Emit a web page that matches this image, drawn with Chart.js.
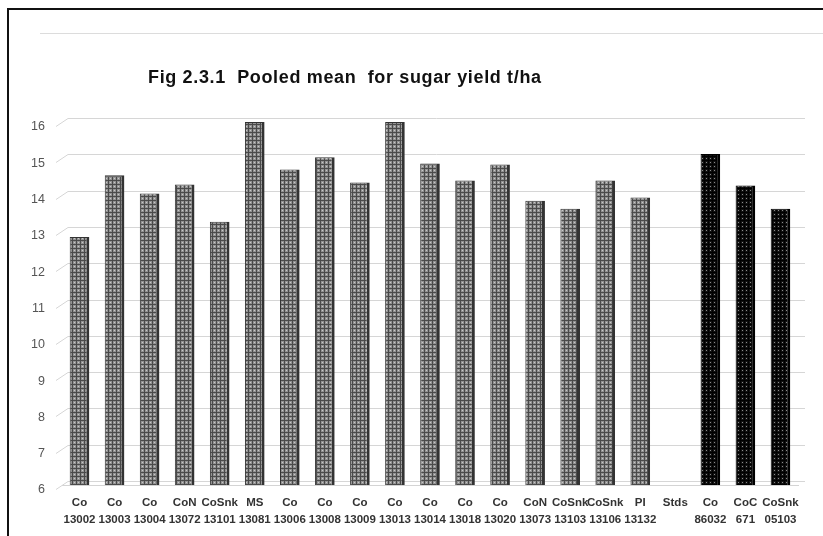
<!DOCTYPE html>
<html lang="en">
<head>
  <meta charset="UTF-8" />
  <title>Pooled mean for sugar yield</title>
  <script src="https://cdn.jsdelivr.net/npm/chart.js"></script>
  <style>
    body {
      margin: 0;
      background-color: #ffffff;
      width: 823px;
      height: 536px;
      overflow: hidden;
      position: relative;
    }
    #frame {
      position: absolute;
      left: 7px;
      top: 8px;
      width: 830px;
      height: 540px;
      border-left: 2px solid #111;
      border-top: 2px solid #111;
    }
    #chartEdge {
      position: absolute;
      left: 40px;
      top: 33px;
      width: 790px;
      border-top: 1px solid #dcdcdc;
    }
    canvas {
      position: absolute;
      left: 0;
      top: 0;
    }
  </style>
</head>
<body>
  <div id="frame"></div>
  <div id="chartEdge"></div>
  <canvas id="yieldChart" width="823" height="536"></canvas>

  <script>
    const chartTitle = "Fig 2.3.1  Pooled mean  for sugar yield t/ha";

    const categories = [
      ["Co", "13002"], ["Co", "13003"], ["Co", "13004"], ["CoN", "13072"],
      ["CoSnk", "13101"], ["MS", "13081"], ["Co", "13006"], ["Co", "13008"],
      ["Co", "13009"], ["Co", "13013"], ["Co", "13014"], ["Co", "13018"],
      ["Co", "13020"], ["CoN", "13073"], ["CoSnk", "13103"], ["CoSnk", "13106"],
      ["PI", "13132"], ["Stds", ""], ["Co", "86032"], ["CoC", "671"],
      ["CoSnk", "05103"]
    ];

    // test entries (grey) and standards (black)
    const entryYield = [
      12.83, 14.53, 14.03, 14.28, 13.25, 16.0, 14.69, 15.03, 14.33, 16.0,
      14.86, 14.39, 14.83, 13.83, 13.61, 14.39, 13.92, null, null, null, null
    ];
    const standardYield = [
      null, null, null, null, null, null, null, null, null, null,
      null, null, null, null, null, null, null, null, 15.12, 14.25, 13.61
    ];

    const yTicks = [6, 7, 8, 9, 10, 11, 12, 13, 14, 15, 16];

    function makePattern(base, dot, light) {
      const c = document.createElement("canvas");
      c.width = 4;
      c.height = 4;
      const g = c.getContext("2d");
      g.fillStyle = base;
      g.fillRect(0, 0, 4, 4);
      g.fillStyle = dot;
      g.fillRect(0, 0, 4, 1);
      g.fillRect(0, 0, 1, 4);
      g.fillStyle = light;
      g.fillRect(2, 2, 1, 1);
      return document.getElementById("yieldChart").getContext("2d").createPattern(c, "repeat");
    }

    const greyFill = makePattern("#929292", "#4a4a4a", "#c8c8c8");
    const blackFill = makePattern("#111111", "#000000", "#8a8a8a");

    // title sits left of centre like in the original figure
    const titlePlugin = {
      id: "figTitle",
      afterDraw(chart) {
        const ctx = chart.ctx;
        ctx.save();
        ctx.font = "bold 18px 'Liberation Sans', Arial, sans-serif";
        ctx.letterSpacing = "0.65px";
        ctx.fillStyle = "#111";
        ctx.textBaseline = "middle";
        ctx.fillText(chartTitle, 148, 78);
        ctx.restore();
      }
    };

    // back-wall gridlines with the slanted lead-in from each tick label
    const wallPlugin = {
      id: "wall",
      beforeDatasetsDraw(chart) {
        const y = chart.scales.y;
        const ctx = chart.ctx;
        ctx.save();
        ctx.strokeStyle = "#d6d6d6";
        ctx.lineWidth = 1;
        yTicks.forEach(v => {
          const py = Math.round(y.getPixelForValue(v)) - 3.5;
          ctx.beginPath();
          ctx.moveTo(56, py + 8);
          ctx.lineTo(68, py);
          ctx.lineTo(805, py);
          ctx.stroke();
        });
        ctx.restore();
      }
    };

    new Chart(document.getElementById("yieldChart"), {
      type: "bar",
      data: {
        labels: categories,
        datasets: [
          {
            label: "Entries",
            data: entryYield,
            backgroundColor: greyFill,
            borderColor: "#333333",
            borderWidth: { top: 1, left: 1, right: 3, bottom: 0 },
            borderSkipped: false,
            grouped: false,
            barPercentage: 0.56,
            categoryPercentage: 1
          },
          {
            label: "Standards",
            data: standardYield,
            backgroundColor: blackFill,
            borderColor: "#000",
            borderWidth: { top: 1, left: 1, right: 3, bottom: 0 },
            borderSkipped: false,
            grouped: false,
            barPercentage: 0.56,
            categoryPercentage: 1
          }
        ]
      },
      options: {
        responsive: false,
        animation: false,
        layout: {
          padding: { top: 122, right: 25, bottom: 4, left: 0 }
        },
        plugins: {
          legend: { display: false },
          title: { display: false },
          tooltip: { enabled: false }
        },
        scales: {
          y: {
            min: 6,
            max: 16,
            afterFit: s => { s.width = 62; },
            afterBuildTicks: s => { s.ticks = yTicks.map(v => ({ value: v })); },
            border: { display: false },
            grid: { display: false, drawTicks: false },
            ticks: {
              padding: 17,
              labelOffset: 5,
              color: "#555",
              font: { family: "'Liberation Sans', Arial, sans-serif", size: 12.5 }
            }
          },
          x: {
            afterFit: s => { s.height = 47; },
            border: { display: true, color: "#d4d4d4" },
            grid: { display: false, drawTicks: false },
            ticks: {
              maxRotation: 0,
              autoSkip: false,
              padding: 9,
              color: "#333",
              font: { family: "'Liberation Sans', Arial, sans-serif", size: 11.5, weight: "bold", lineHeight: 1.5 }
            }
          }
        }
      },
      plugins: [titlePlugin, wallPlugin]
    });
  </script>
</body>
</html>
